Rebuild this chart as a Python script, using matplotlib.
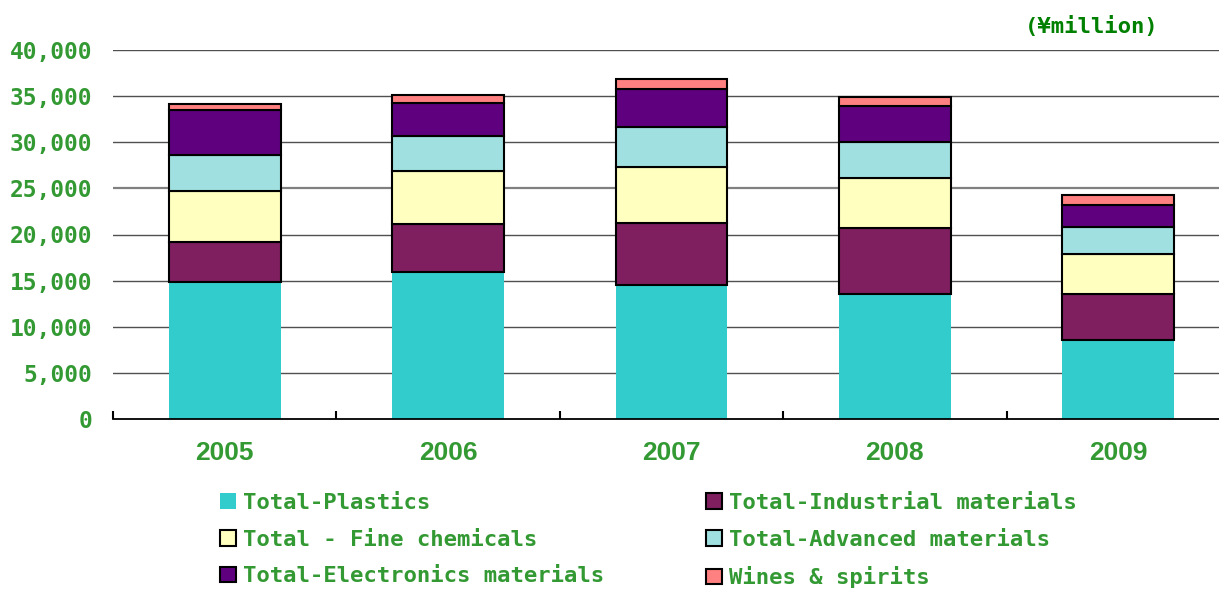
import matplotlib
matplotlib.use("Agg")
import matplotlib.pyplot as plt
from matplotlib.patches import Patch
import numpy as np

years = ["2005", "2006", "2007", "2008", "2009"]
series_names = ["Total-Plastics", "Total-Industrial materials", "Total - Fine chemicals",
                "Total-Advanced materials", "Total-Electronics materials", "Wines & spirits"]
plastics = [14800, 15900, 14500, 13550, 8550]
industrial = [4400, 5200, 6750, 7200, 5000]
fine_chem = [5500, 5800, 6100, 5350, 4350]
advanced = [3900, 3800, 4250, 3900, 2950]
electronics = [4900, 3600, 4200, 3900, 2400]
wines = [700, 800, 1100, 1000, 1000]
yticks = [0, 5000, 10000, 15000, 20000, 25000, 30000, 35000, 40000]
ytick_labels = ["0", "5,000", "10,000", "15,000", "20,000", "25,000", "30,000", "35,000", "40,000"]

colors = ["#33CCCC", "#7F1F5F", "#FFFFC0", "#A0E0E0", "#5F007F", "#FF8080"]
edges = ["none", "black", "black", "black", "black", "black"]
data = [plastics, industrial, fine_chem, advanced, electronics, wines]

W, H = 1219, 590
fig = plt.figure(figsize=(W / 100, H / 100), dpi=100)
ax = fig.add_axes([113 / W, (H - 419) / H, 1117 / W, 369 / H])

green = "#339933"
x = np.arange(len(years))
bottom = np.zeros(len(years))
handles = []
for vals, c, e, name in zip(data, colors, edges, series_names):
    ax.bar(x, vals, width=0.5, bottom=bottom, color=c, edgecolor=e,
           linewidth=1.5 if e != "none" else 0, zorder=3)
    bottom += np.array(vals)
    handles.append(Patch(facecolor=c, edgecolor=e, linewidth=1.5 if e != "none" else 0, label=name))

ax.set_xlim(-0.5, 4.5)
ax.set_ylim(0, 40000)
for v in yticks[1:]:
    if v == 25000:
        ax.axhline(v, color="#808080", lw=1.6, zorder=1)
    else:
        ax.axhline(v, color="#505050", lw=1.0, zorder=1)

for s in ["left", "right", "top"]:
    ax.spines[s].set_visible(False)
ax.spines["bottom"].set_color("black")
ax.spines["bottom"].set_linewidth(1.3)
ax.spines["bottom"].set_zorder(4)

ax.set_yticks(yticks)
ax.set_yticklabels(ytick_labels)
ax.tick_params(axis="y", length=0, pad=15, labelsize=16.5, labelcolor=green)
for lab in ax.get_yticklabels():
    lab.set_fontfamily("DejaVu Sans Mono")
    lab.set_fontweight("bold")

ax.set_xticks(x)
ax.set_xticklabels(years)
ax.set_xticks(np.arange(-0.5, 5.0, 1.0), minor=True)
ax.tick_params(axis="x", which="major", length=0, pad=15.5, labelsize=19, labelcolor=green)
ax.tick_params(axis="x", which="minor", direction="in", length=6, width=1.5, color="black")
for lab in ax.get_xticklabels():
    lab.set_fontfamily(["Liberation Sans Narrow", "Liberation Sans", "DejaVu Sans"])
    lab.set_fontweight("bold")

fig.text(1025 / W, 1 - 27 / H, "(¥million)", ha="left", va="center", fontsize=16,
         color="#008000", fontfamily="DejaVu Sans Mono", fontweight="bold")

order = [0, 2, 4, 1, 3, 5]
leg = fig.legend([handles[i] for i in order], [series_names[i] for i in order],
                 ncol=2, loc="upper left", bbox_to_anchor=(220 / W, 1 - 493 / H),
                 frameon=False, borderpad=0, borderaxespad=0, handlelength=0.72,
                 handleheight=0.7, handletextpad=0.3, columnspacing=4.6, labelspacing=0.75,
                 prop={"family": "DejaVu Sans Mono", "weight": "bold", "size": 16})
for t in leg.get_texts():
    t.set_color(green)

fig.savefig("out.png", dpi=100)
